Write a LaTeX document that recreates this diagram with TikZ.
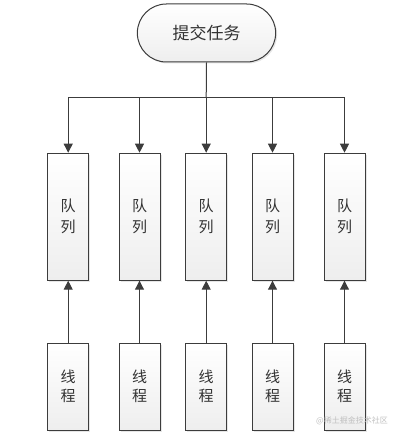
\documentclass[tikz,border=0pt]{standalone}
\usepackage{fontspec}
\setmainfont{Noto Sans CJK SC}
\usepackage{xcolor}
\usetikzlibrary{arrows.meta,shapes.misc,shadows}

\definecolor{linegray}{HTML}{3C3C3C}
\definecolor{boxgray}{HTML}{EEEEEE}

\begin{document}
\begin{tikzpicture}[x=1pt,y=-1pt,
  box/.style={rectangle, draw=linegray, line width=1pt, top color=white, bottom color=boxgray,
    drop shadow={shadow xshift=1.5pt, shadow yshift=-1.5pt, opacity=0.2},
    minimum width=41pt, align=center, font=\fontsize{15pt}{21pt}\selectfont, text=black!80},
  queue/.style={box, minimum height=127pt},
  worker/.style={box, minimum height=87pt, font=\fontsize{15pt}{19pt}\selectfont},
  link/.style={draw=linegray, line width=1pt},
  arrow/.style={link, -{Triangle[length=9pt,width=9pt]}}]
\useasboundingbox (0,0) rectangle (402,438);

\node (task) [rounded rectangle, draw=linegray, line width=1pt, top color=white, bottom color=boxgray,
  drop shadow={shadow xshift=1.5pt, shadow yshift=-1.5pt, opacity=0.2},
  minimum width=145pt, minimum height=58pt, font=\fontsize{17pt}{20pt}\selectfont, text=black!80] at (206.5,33) {提交任务};

\node (q1) [queue] at (68.2,216.7) {队\\列};
\node (q2) [queue] at (139.5,216.7) {队\\列};
\node (q3) [queue] at (206.2,216.7) {队\\列};
\node (q4) [queue] at (272.5,216.7) {队\\列};
\node (q5) [queue] at (344.5,216.7) {队\\列};

\node (t1) [worker] at (68.2,386.5) {线\\程};
\node (t2) [worker] at (139.5,386.5) {线\\程};
\node (t3) [worker] at (206.2,386.5) {线\\程};
\node (t4) [worker] at (272.5,386.5) {线\\程};
\node (t5) [worker] at (344.5,386.5) {线\\程};

\coordinate (bus) at (206.2,97.3);

% task fans out to the queues
\draw[link] (task.south) -- (bus);
\draw[arrow] (bus) -| (q1.north);
\draw[arrow] (bus) -| (q2.north);
\draw[arrow] (bus) -- (q3.north);
\draw[arrow] (bus) -| (q4.north);
\draw[arrow] (bus) -| (q5.north);

% each thread takes from its queue
\draw[arrow] (t1) -- (q1);
\draw[arrow] (t2) -- (q2);
\draw[arrow] (t3) -- (q3);
\draw[arrow] (t4) -- (q4);
\draw[arrow] (t5) -- (q5);

\node (mark) [text=black!25, font=\fontsize{8pt}{9pt}\selectfont] at (352,421) {@稀土掘金技术社区};
\end{tikzpicture}
\end{document}
